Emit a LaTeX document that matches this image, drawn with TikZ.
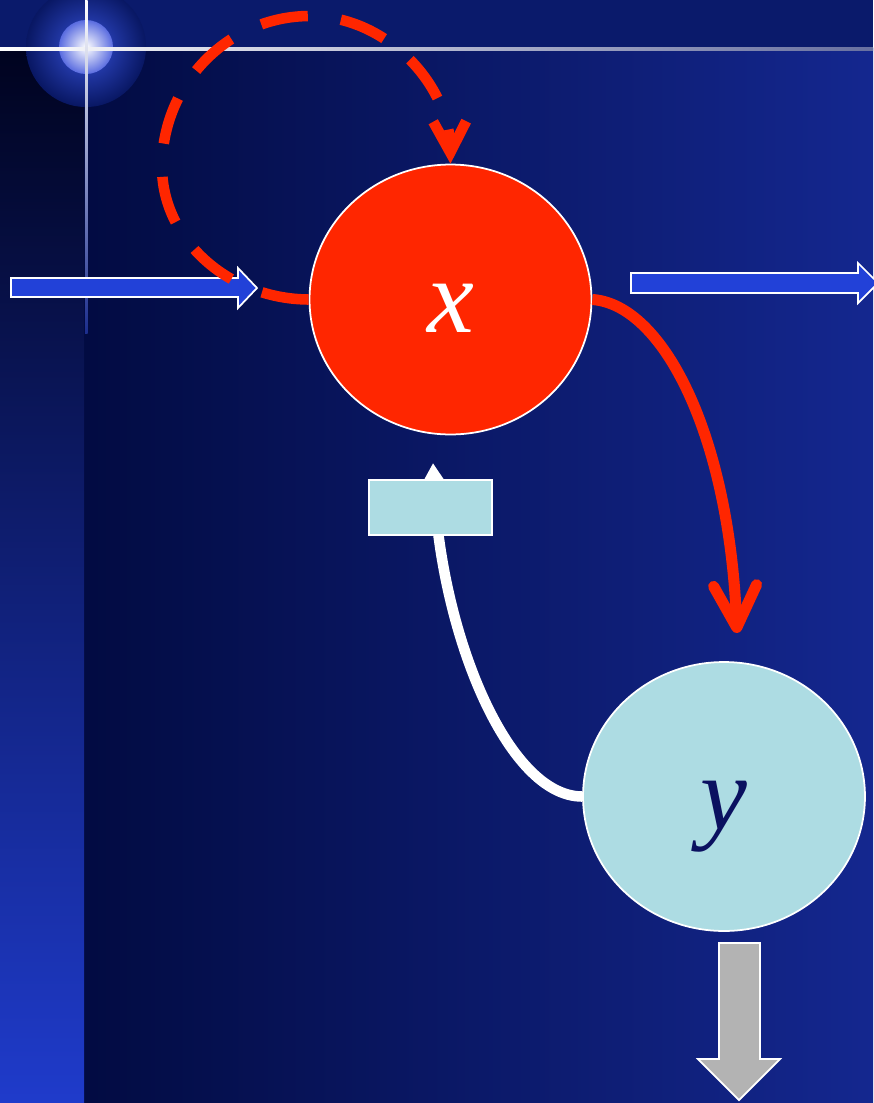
\documentclass[tikz,border=0pt]{standalone}
\usepackage{fontspec}
\setmainfont{Liberation Serif}
\usetikzlibrary{arrows.meta,positioning,shapes.geometric}
\definecolor{Night}{HTML}{0A1A6B}
\definecolor{DeepLeft}{HTML}{020B42}
\definecolor{DeepRight}{HTML}{14278F}
\definecolor{StripTop}{HTML}{00031F}
\definecolor{StripBottom}{HTML}{1F3BCB}
\definecolor{Glow}{HTML}{3550D8}
\definecolor{GlowRim}{HTML}{5A6CE0}
\definecolor{RuleFade}{HTML}{6870A0}
\definecolor{Signal}{HTML}{FF2600}
\definecolor{Pale}{HTML}{ADDCE3}
\definecolor{Ink}{HTML}{0B1160}
\definecolor{Pipe}{HTML}{2241D8}
\definecolor{Drain}{HTML}{B3B3B3}
\tikzset{
  stateball/.style={ellipse,draw=white,line width=1pt,inner sep=0pt,minimum width=5.64cm,minimum height=5.4cm,font=\fontsize{60}{64}\selectfont\itshape,text height=1.4cm,text depth=.1cm},
  gatebox/.style={rectangle,draw=white,fill=Pale,line width=1pt,minimum width=2.46cm,minimum height=1.1cm},
  blockarrow/.style={draw=white,line width=1pt,line join=miter},
  loopflow/.style={-{Straight Barb[length=.62cm,width=.66cm]},draw=Signal,line width=6pt,dash pattern=on 27pt off 19pt},
  flow/.style={-{Straight Barb[round,length=.84cm,width=.86cm]},draw=Signal,line width=6.3pt},
  feedback/.style={-{Triangle[length=.5cm,width=.56cm]},draw=white,line width=6pt}
}
\begin{document}
\begin{tikzpicture}[x=.02cm,y=-.02cm]
  \useasboundingbox (0,0) rectangle (873,1103);
  \fill[Night] (0,0) rectangle (873,48);
  \shade[left color=DeepLeft,right color=DeepRight] (84,48) rectangle (873,1103);
  \shade[top color=StripTop,bottom color=StripBottom] (0,48) rectangle (84,1103);
  \shade[inner color=Glow,outer color=Night!80!DeepLeft] (86,47) circle (60);
  \shade[inner color=white,outer color=GlowRim] (86,47) circle (27);
  \shade[left color=white,right color=RuleFade] (0,47.5) rectangle (873,50.5);
  \shade[top color=white,bottom color=Glow!50!DeepLeft] (85.2,0) rectangle (87.6,333);

  \draw[blockarrow,fill=Pipe] (11,278) -- (238,278) -- (238,268) -- (257,288) -- (238,308) -- (238,297) -- (11,297) -- cycle;
  \draw[blockarrow,fill=Pipe] (631,273) -- (858,273) -- (858,263) -- (878,283) -- (858,303) -- (858,293) -- (631,293) -- cycle;
  \draw[blockarrow,fill=Drain] (719,943) -- (760,943) -- (760,1059) -- (780,1059) -- (739,1100) -- (698,1059) -- (719,1059) -- cycle;

  \node[stateball,fill=Signal,text=white] (x) at (450.5,299.5) {x};
  \node[stateball,fill=Pale,text=Ink,minimum height=5.38cm] (y) at (724,796.5) {y};
  \coordinate (yin) at (737,633);
  \coordinate (xin) at (433,463);

  \draw[loopflow] (x.west) .. controls (228,299) and (162,239) .. (162,167)
    .. controls (162,84) and (228,16) .. (310,16)
    .. controls (387,16) and (449,85) .. (x.north);
  \draw[flow] (x.east) .. controls +(70,5) and +(-8,-200) .. (yin);
  \draw[feedback] (y.west) .. controls +(-75,0) and +(8,170) .. (xin);
  \node[gatebox] (gate) at (430.5,507.5) {};
\end{tikzpicture}
\end{document}
